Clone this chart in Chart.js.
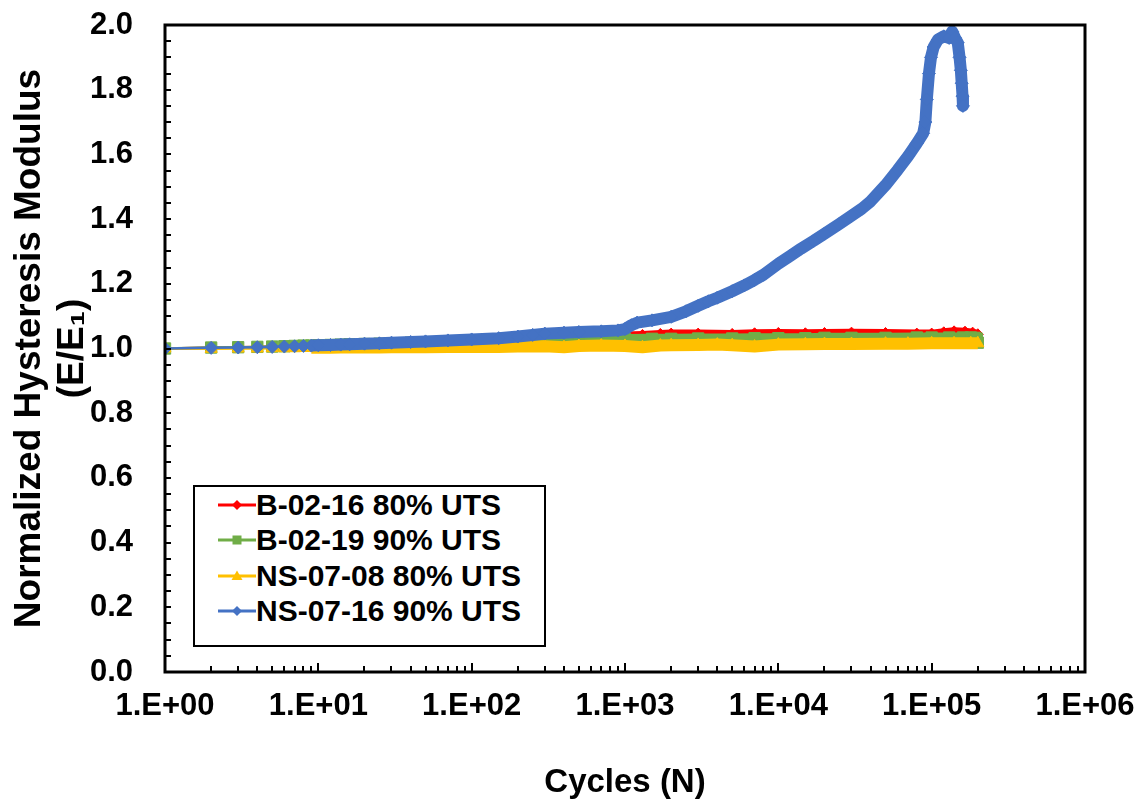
<!DOCTYPE html>
<html>
<head>
<meta charset="utf-8">
<script src="https://cdn.jsdelivr.net/npm/chart.js@4.4.1/dist/chart.umd.min.js"></script>
<style>
  html, body { margin: 0; padding: 0; background: #fff; }
  #wrap { position: relative; width: 1146px; height: 799px; }
  #legend {
    position: absolute; left: 193px; top: 485px; width: 349px; height: 158px;
    border: 2px solid #000; background: #fff;
    font: bold 30px "Liberation Sans", Arial, sans-serif; color: #000;
  }
  .row { height: 35.5px; display: flex; align-items: center; white-space: nowrap; }
  .row svg { margin-left: 23px; flex: none; }
</style>
</head>
<body>
<div id="wrap">
  <canvas id="myChart" width="1146" height="799"></canvas>
  <div id="legend"></div>
</div>
<script>
// cycles (N) and normalized modulus E/E1 for each specimen
const b0216Cycles = [1, 2, 3, 4, 5, 6, 7, 8, 9, 10,
  12, 14, 16, 20, 25, 30, 40, 50, 70, 100,
  150, 200, 300, 500, 700, 1000, 1300, 1700, 2000, 3000,
  5000, 7000, 10000, 15000, 20000, 30000, 50000, 80000, 100000, 120000,
  140000, 165000, 185000, 200000];
const b0216Values = [1.000, 1.002, 1.004, 1.005, 1.006, 1.007, 1.008, 1.009, 1.010, 1.010,
  1.011, 1.012, 1.013, 1.014, 1.016, 1.017, 1.019, 1.021, 1.023, 1.025,
  1.028, 1.030, 1.033, 1.036, 1.038, 1.040, 1.042, 1.045, 1.046, 1.046,
  1.045, 1.047, 1.048, 1.047, 1.048, 1.049, 1.048, 1.046, 1.046, 1.050,
  1.053, 1.052, 1.049, 1.044];

const b0219Cycles = [1, 2, 3, 4, 5, 6, 7, 8, 9, 10,
  12, 14, 16, 20, 25, 30, 40, 50, 70, 100,
  150, 200, 300, 500, 700, 1000, 1500, 2000, 3000, 5000,
  7000, 10000, 15000, 20000, 30000, 50000, 80000, 100000, 130000, 160000,
  180000, 192000, 197000, 200000];
const b0219Values = [1.000, 1.003, 1.004, 1.005, 1.006, 1.007, 1.008, 1.009, 1.009, 1.010,
  1.011, 1.012, 1.013, 1.014, 1.015, 1.016, 1.018, 1.019, 1.021, 1.022,
  1.024, 1.025, 1.026, 1.027, 1.028, 1.029, 1.030, 1.030, 1.031, 1.031,
  1.032, 1.032, 1.032, 1.033, 1.033, 1.033, 1.034, 1.034, 1.034, 1.034,
  1.034, 1.033, 1.030, 1.018];

const ns0708Cycles = [1, 2, 3, 4, 5, 6, 7, 8, 9, 10,
  12, 14, 16, 20, 25, 30, 40, 50, 70, 100,
  150, 200, 300, 400, 500, 700, 1000, 1300, 1700, 2000,
  3000, 4000, 5000, 7000, 10000, 15000, 20000, 30000, 50000, 70000,
  100000, 140000, 180000, 200000];
const ns0708Values = [1.000, 0.999, 1.000, 1.000, 1.001, 1.001, 1.001, 1.002, 1.002, 1.002,
  1.002, 1.003, 1.003, 1.003, 1.003, 1.004, 1.004, 1.004, 1.005, 1.005,
  1.005, 1.006, 1.007, 1.004, 1.008, 1.009, 1.008, 1.004, 1.009, 1.010,
  1.011, 1.012, 1.010, 1.006, 1.012, 1.013, 1.014, 1.014, 1.015, 1.015,
  1.016, 1.016, 1.016, 1.016];

const ns0716Cycles = [1, 2, 3, 4, 5, 6, 7, 8, 9, 10,
  12, 14, 16, 20, 25, 30, 40, 50, 70, 100,
  150, 200, 250, 300, 400, 500, 700, 900, 1000, 1100,
  1200, 1500, 2000, 2500, 3000, 3500, 4000, 5000, 6000, 7000,
  8000, 10000, 12000, 14000, 17000, 20000, 25000, 30000, 35000, 40000,
  50000, 60000, 70000, 80000, 88000, 91000, 93000, 96000, 99000, 103000,
  110000, 120000, 130000, 136000, 142000, 148000, 152000, 155000, 157000, 159000,
  160000];
const ns0716Values = [1.000, 1.002, 1.003, 1.004, 1.005, 1.006, 1.007, 1.008, 1.009, 1.010,
  1.011, 1.012, 1.013, 1.015, 1.016, 1.018, 1.020, 1.022, 1.025, 1.028,
  1.032, 1.037, 1.042, 1.046, 1.049, 1.051, 1.053, 1.056, 1.060, 1.072,
  1.080, 1.087, 1.098, 1.115, 1.132, 1.146, 1.157, 1.177, 1.195, 1.212,
  1.228, 1.262, 1.287, 1.308, 1.333, 1.355, 1.385, 1.410, 1.432, 1.455,
  1.505, 1.552, 1.594, 1.634, 1.665, 1.700, 1.770, 1.850, 1.900, 1.932,
  1.955, 1.965, 1.960, 1.980, 1.960, 1.945, 1.900, 1.860, 1.820, 1.780,
  1.750];

const seriesNames = ['B-02-16 80% UTS', 'B-02-19 90% UTS', 'NS-07-08 80% UTS', 'NS-07-16 90% UTS'];
const seriesColors = ['#FF0000', '#70AD47', '#FFC000', '#4472C4'];
const xTickValues = [1, 10, 100, 1000, 10000, 100000, 1000000];

const FONT = '"Liberation Sans", Arial, sans-serif';

function pts(cycles, values) {
  return cycles.map((c, i) => ({x: c, y: values[i]}));
}

function series(i, cycles, values, style, radius, band, order) {
  return {
    label: seriesNames[i],
    data: pts(cycles, values),
    borderColor: seriesColors[i],
    backgroundColor: seriesColors[i],
    pointBackgroundColor: seriesColors[i],
    pointBorderColor: seriesColors[i],
    pointBorderWidth: 1,
    pointStyle: style,
    pointRadius: radius,
    borderWidth: band,
    borderJoinStyle: 'round',
    segment: {
      borderWidth: ctx => ctx.p0.parsed.x < 9 ? 2.5 : band
    },
    tension: 0,
    order: order
  };
}

const data = {
  datasets: [
    series(0, b0216Cycles, b0216Values, 'rectRot', 5.5, 8, 3),
    series(1, b0219Cycles, b0219Values, 'rect', 8, 10, 2),
    series(2, ns0708Cycles, ns0708Values, 'triangle', 7, 12, 1),
    series(3, ns0716Cycles, ns0716Values, 'rectRot', 6.5, 12, 0)
  ]
};

// frame around the plot area plus inward tick marks
const frameAndTicks = {
  id: 'frameAndTicks',
  afterDatasetsDraw(chart) {
    const {ctx, chartArea: a, scales: {x, y}} = chart;
    ctx.save();
    ctx.strokeStyle = '#000';
    ctx.lineWidth = 2;
    ctx.beginPath();
    for (let i = 0; i <= 40; i++) {
      const py = Math.round(y.getPixelForValue(i * 0.05));
      ctx.moveTo(a.left, py);
      ctx.lineTo(a.left + 6, py);
    }
    for (let d = 0; d < 6; d++) {
      for (let k = 1; k <= 9; k++) {
        const px = Math.round(x.getPixelForValue(k * Math.pow(10, d)));
        ctx.moveTo(px, a.bottom);
        ctx.lineTo(px, a.bottom - (k === 1 ? 9 : 6));
      }
    }
    ctx.stroke();
    ctx.lineWidth = 3;
    ctx.strokeRect(a.left, a.top, a.right - a.left, a.bottom - a.top);
    ctx.restore();
  }
};

const config = {
  type: 'line',
  data: data,
  options: {
    responsive: false,
    animation: false,
    layout: { padding: { top: 25, right: 61, bottom: 0, left: 0 } },
    plugins: {
      legend: { display: false },
      tooltip: { enabled: false }
    },
    scales: {
      x: {
        type: 'logarithmic',
        position: 'bottom',
        min: 1,
        max: 1000000,
        grid: { display: false },
        border: { display: false },
        afterBuildTicks: s => { s.ticks = xTickValues.map(v => ({value: v})); },
        afterFit: s => { s.height = 127; s.paddingLeft = 0; s.paddingRight = 0; },
        ticks: {
          color: '#000',
          font: { family: FONT, size: 31, weight: 'bold' },
          padding: 8,
          autoSkip: false,
          maxRotation: 0,
          callback: v => '1.E+' + String(Math.round(Math.log10(v))).padStart(2, '0')
        },
        title: {
          display: true,
          text: 'Cycles (N)',
          color: '#000',
          font: { family: FONT, size: 33, weight: 'bold', lineHeight: 1 },
          padding: { top: 0, bottom: 0 }
        }
      },
      y: {
        min: 0,
        max: 2,
        grid: { display: false },
        border: { display: false },
        afterFit: s => { s.width = 165; s.paddingTop = 0; s.paddingBottom = 0; },
        ticks: {
          stepSize: 0.2,
          color: '#000',
          font: { family: FONT, size: 31, weight: 'bold' },
          padding: 24,
          callback: v => v.toFixed(1)
        },
        title: {
          display: true,
          text: ['Normalized Hysteresis Modulus', '(E/E\u2081)'],
          color: '#000',
          font: { family: FONT, size: 37, weight: 'bold', lineHeight: 1.17 },
          padding: { top: 8, bottom: 0 }
        }
      }
    }
  },
  plugins: [frameAndTicks]
};

const myChart = new Chart(document.getElementById('myChart'), config);

// legend box inside the plot, like the spreadsheet one
const markers = [
  '<polygon points="19,5 24,10 19,15 14,10"/>',
  '<rect x="14.5" y="5.5" width="9" height="9"/>',
  '<polygon points="19,4.5 24.5,14 13.5,14"/>',
  '<polygon points="19,5 24,10 19,15 14,10"/>'
];
document.getElementById('legend').innerHTML = seriesNames.map((name, i) =>
  '<div class="row"><svg width="38" height="20" viewBox="0 0 38 20">' +
  '<line x1="0" y1="10" x2="38" y2="10" stroke="' + seriesColors[i] + '" stroke-width="3"/>' +
  '<g fill="' + seriesColors[i] + '">' + markers[i] + '</g></svg>' +
  '<span>' + name + '</span></div>'
).join('');
</script>
</body>
</html>
